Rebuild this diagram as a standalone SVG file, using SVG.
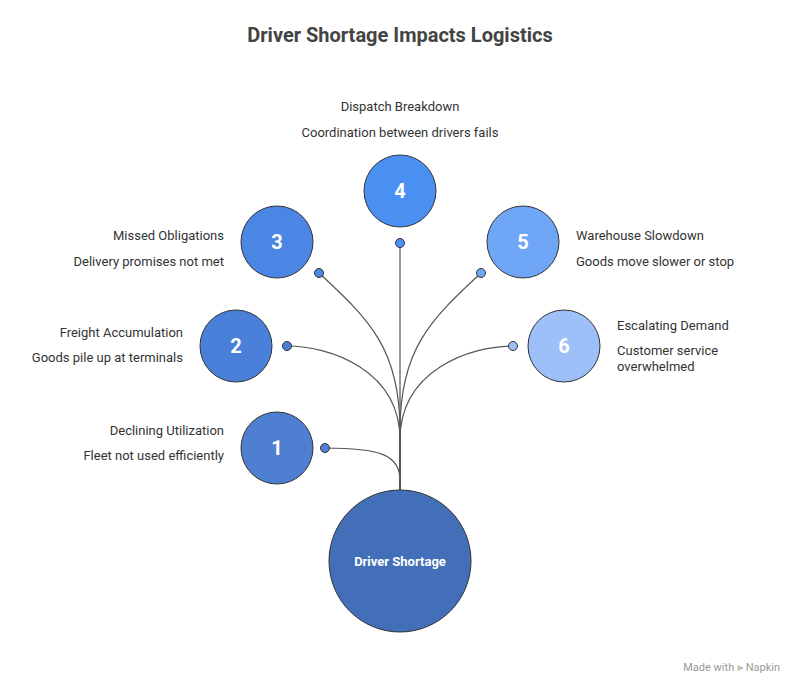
<svg xmlns="http://www.w3.org/2000/svg" width="800" height="675" viewBox="0 0 800 675">
<style>
.t{font-family:Roboto,"Liberation Sans",sans-serif;font-size:13px;fill:#333}
.n{font-family:Roboto,"Liberation Sans",sans-serif;font-size:20px;font-weight:bold;fill:#fff;text-anchor:middle}
.c{stroke:#333;stroke-width:1}
.l{fill:none;stroke:#555;stroke-width:1.2}
.d{stroke:#333;stroke-width:1}
</style>
<rect width="800" height="675" fill="#fff"/>
<text x="400" y="42" text-anchor="middle" font-family="Roboto,'Liberation Sans',sans-serif" font-size="20" font-weight="bold" fill="#444">Driver Shortage Impacts Logistics</text>
<g id="connectors">
<path class="l" d="M400,490 L400,480 C400,455 380,448 325,448"/>
<path class="l" d="M400,490 L400,440 C400,370 330,346 287,346"/>
<path class="l" d="M400,490 L400,430 C400,350 370,320 319,273"/>
<path class="l" d="M400,490 L400,243"/>
<path class="l" d="M400,490 L400,430 C400,350 430,320 481,273"/>
<path class="l" d="M400,490 L400,440 C400,370 470,346 513,346"/>
</g>
<g id="center"><circle class="c" cx="400" cy="561" r="71" fill="#436eb8"/><text x="400" y="566" text-anchor="middle" font-family="Roboto,'Liberation Sans',sans-serif" font-size="13" font-weight="bold" fill="#fff">Driver Shortage</text></g>
<g id="n1"><circle class="c" cx="277" cy="448" r="36" fill="#4f7fd0"/><text class="n" x="277" y="455">1</text><circle class="d" cx="325" cy="448" r="4.5" fill="#4f7fd0"/>
<text class="t" x="224" y="435" text-anchor="end">Declining Utilization</text><text class="t" x="224" y="460" text-anchor="end">Fleet not used efficiently</text></g>
<g id="n2"><circle class="c" cx="236" cy="346" r="36" fill="#4a80da"/><text class="n" x="236" y="353">2</text><circle class="d" cx="287" cy="346" r="4.5" fill="#4a80da"/>
<text class="t" x="183" y="337" text-anchor="end">Freight Accumulation</text><text class="t" x="183" y="362" text-anchor="end">Goods pile up at terminals</text></g>
<g id="n3"><circle class="c" cx="277" cy="242" r="36" fill="#4b86e4"/><text class="n" x="277" y="249">3</text><circle class="d" cx="319" cy="273" r="4.5" fill="#4b86e4"/>
<text class="t" x="224" y="240" text-anchor="end">Missed Obligations</text><text class="t" x="224" y="266" text-anchor="end">Delivery promises not met</text></g>
<g id="n4"><circle class="c" cx="400" cy="191" r="36" fill="#4a90f2"/><text class="n" x="400" y="198">4</text><circle class="d" cx="400" cy="243" r="4.5" fill="#4a90f2"/>
<text class="t" x="400" y="111" text-anchor="middle">Dispatch Breakdown</text><text class="t" x="400" y="137" text-anchor="middle">Coordination between drivers fails</text></g>
<g id="n5"><circle class="c" cx="523" cy="242" r="36" fill="#6fa6f6"/><text class="n" x="523" y="249">5</text><circle class="d" cx="481" cy="273" r="4.5" fill="#6fa6f6"/>
<text class="t" x="576" y="240">Warehouse Slowdown</text><text class="t" x="576" y="266">Goods move slower or stop</text></g>
<g id="n6"><circle class="c" cx="564" cy="346" r="36" fill="#9ec0f8"/><text class="n" x="564" y="353">6</text><circle class="d" cx="513" cy="346" r="4.5" fill="#9ec0f8"/>
<text class="t" x="617" y="330">Escalating Demand</text><text class="t" x="617" y="355">Customer service</text><text class="t" x="617" y="371">overwhelmed</text></g>
<text x="780" y="671" text-anchor="end" font-family="Roboto,'Liberation Sans',sans-serif" font-size="11" fill="#999">Made with ⪢ Napkin</text>
</svg>
